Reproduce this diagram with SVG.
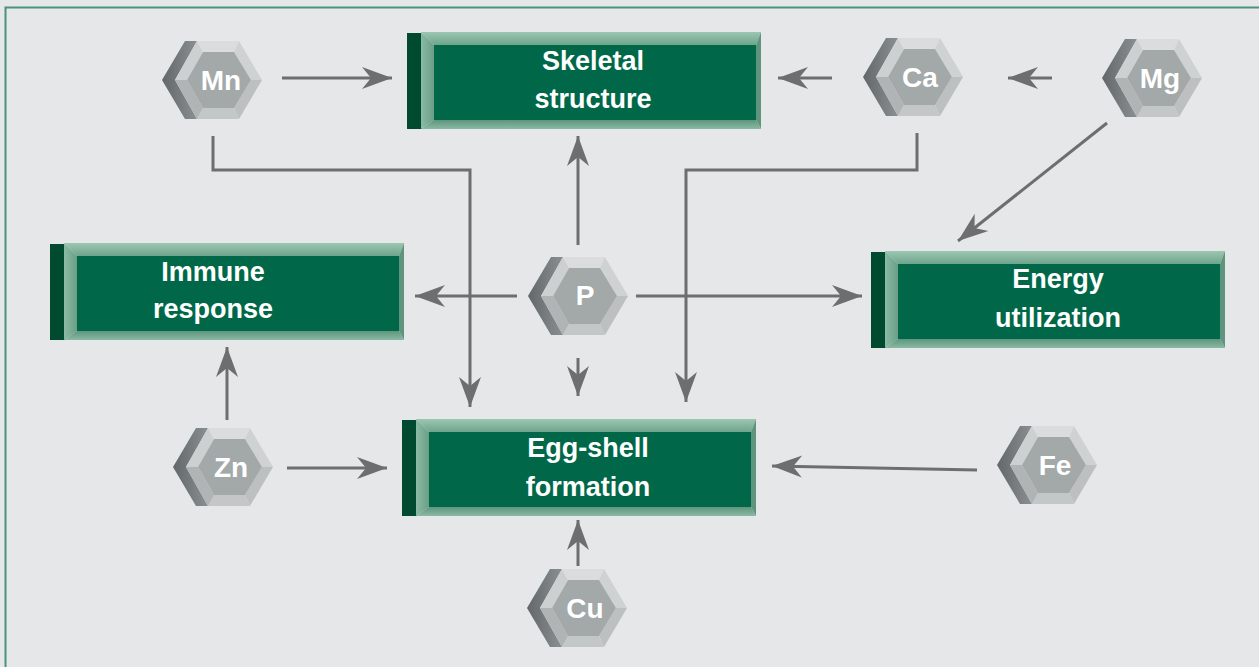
<svg xmlns="http://www.w3.org/2000/svg" xmlns:xlink="http://www.w3.org/1999/xlink" width="1259" height="667" viewBox="0 0 1259 667">
<style>
.lbl{font-family:"Liberation Sans","Arial",sans-serif;font-weight:bold;font-size:27px;fill:#ffffff;text-anchor:middle}
.hl{font-family:"Liberation Sans","Arial",sans-serif;font-weight:bold;font-size:28px;fill:#ffffff;text-anchor:middle}
.con{fill:none;stroke:#6d6e70;stroke-width:3;marker-end:url(#ah)}
</style>
<defs>
<marker id="ah" markerUnits="userSpaceOnUse" markerWidth="32" markerHeight="24" viewBox="-31 -12 32 24" refX="0" refY="0" orient="auto">
<path d="M0,0 L-30,-11 L-21,0 L-30,11 Z" fill="#6d6e70"/>
</marker>
<linearGradient id="topg" x1="0" y1="0" x2="0" y2="1"><stop offset="0" stop-color="#9cc6b3"/><stop offset="1" stop-color="#6ea58c"/></linearGradient>
<linearGradient id="botg" x1="0" y1="0" x2="0" y2="1"><stop offset="0" stop-color="#5e957d"/><stop offset="1" stop-color="#8ab9a4"/></linearGradient>
<linearGradient id="leftg" x1="0" y1="0" x2="1" y2="0"><stop offset="0" stop-color="#8bbaa5"/><stop offset="1" stop-color="#6a9f87"/></linearGradient>
<linearGradient id="darkg" x1="0" y1="0" x2="1" y2="0"><stop offset="0" stop-color="#62676a"/><stop offset="1" stop-color="#8a8f91"/></linearGradient>
<g id="box">
<rect x="0" y="1" width="15" height="96" fill="#004a30"/>
<polygon points="14,0 354,0 349,13 27,13" fill="url(#topg)"/>
<polygon points="14,0 27,13 27,88 14,97" fill="url(#leftg)"/>
<polygon points="354,0 354,97 349,88 349,13" fill="#5f957e"/>
<polygon points="14,97 354,97 349,88 27,88" fill="url(#botg)"/>
<rect x="27" y="13" width="322" height="75" fill="#006848"/>
</g>
<g id="hex">
<polygon points="-50,0 -27,-39 -15,-39 -37,0 -15,39 -27,39" fill="url(#darkg)"/>
<polygon points="-37,0 -15,-39 -9,-28 -25,0" fill="#cdd0d1"/>
<polygon points="-15,-39 27,-39 22,-28 -9,-28" fill="#dadcdd"/>
<polygon points="27,-39 50,0 39,0 22,-28" fill="#cfd2d3"/>
<polygon points="50,0 27,39 22,28 39,0" fill="#bcc0c1"/>
<polygon points="27,39 -15,39 -9,28 22,28" fill="#c4c7c8"/>
<polygon points="-15,39 -37,0 -25,0 -9,28" fill="#b0b4b5"/>
<polygon points="-25,0 -9,-28 22,-28 39,0 22,28 -9,28" fill="#a3a8a9"/>
</g>
</defs>
<rect x="0" y="0" width="1259" height="667" fill="#e6e7e8"/>
<path d="M5.5,667 L5.5,7.5 L1259,7.5" fill="none" stroke="#4a9478" stroke-width="2"/>

<g id="connectors">
<line class="con" x1="282" y1="78" x2="392" y2="78"/>
<line class="con" x1="832" y1="78" x2="778" y2="78"/>
<line class="con" x1="1052" y1="78" x2="1008" y2="78"/>
<line class="con" x1="1107" y1="123" x2="958" y2="241"/>
<polyline class="con" points="213,136 213,170 470,170 470,407"/>
<polyline class="con" points="917,133 917,170 686,170 686,402"/>
<line class="con" x1="578" y1="245" x2="578" y2="136"/>
<line class="con" x1="517" y1="296" x2="415" y2="296"/>
<line class="con" x1="636" y1="296" x2="862" y2="296"/>
<line class="con" x1="578" y1="358" x2="578" y2="396"/>
<line class="con" x1="227" y1="420" x2="227" y2="347"/>
<line class="con" x1="287" y1="468" x2="387" y2="468"/>
<line class="con" x1="977" y1="470" x2="772" y2="466"/>
<line class="con" x1="578" y1="566" x2="578" y2="520"/>
</g>

<g id="skeletal"><use xlink:href="#box" x="407" y="32"/><text class="lbl" x="593" y="70">Skeletal</text><text class="lbl" x="593" y="108">structure</text></g>
<g id="immune"><use xlink:href="#box" x="50" y="243"/><text class="lbl" x="213" y="281">Immune</text><text class="lbl" x="213" y="318">response</text></g>
<g id="energy"><use xlink:href="#box" x="871" y="251"/><text class="lbl" x="1058" y="288">Energy</text><text class="lbl" x="1058" y="327">utilization</text></g>
<g id="eggshell"><use xlink:href="#box" x="402" y="419"/><text class="lbl" x="588" y="457">Egg-shell</text><text class="lbl" x="588" y="496">formation</text></g>

<g id="mn"><use xlink:href="#hex" x="212" y="80"/><text class="hl" x="221" y="90">Mn</text></g>
<g id="ca"><use xlink:href="#hex" x="913" y="77"/><text class="hl" x="920" y="87">Ca</text></g>
<g id="mg"><use xlink:href="#hex" x="1152" y="78"/><text class="hl" x="1160" y="88">Mg</text></g>
<g id="p"><use xlink:href="#hex" x="578" y="296"/><text class="hl" x="585" y="305">P</text></g>
<g id="zn"><use xlink:href="#hex" x="223" y="467"/><text class="hl" x="231" y="477">Zn</text></g>
<g id="fe"><use xlink:href="#hex" x="1047" y="465"/><text class="hl" x="1055" y="475">Fe</text></g>
<g id="cu"><use xlink:href="#hex" x="577" y="608"/><text class="hl" x="585" y="618">Cu</text></g>
</svg>
